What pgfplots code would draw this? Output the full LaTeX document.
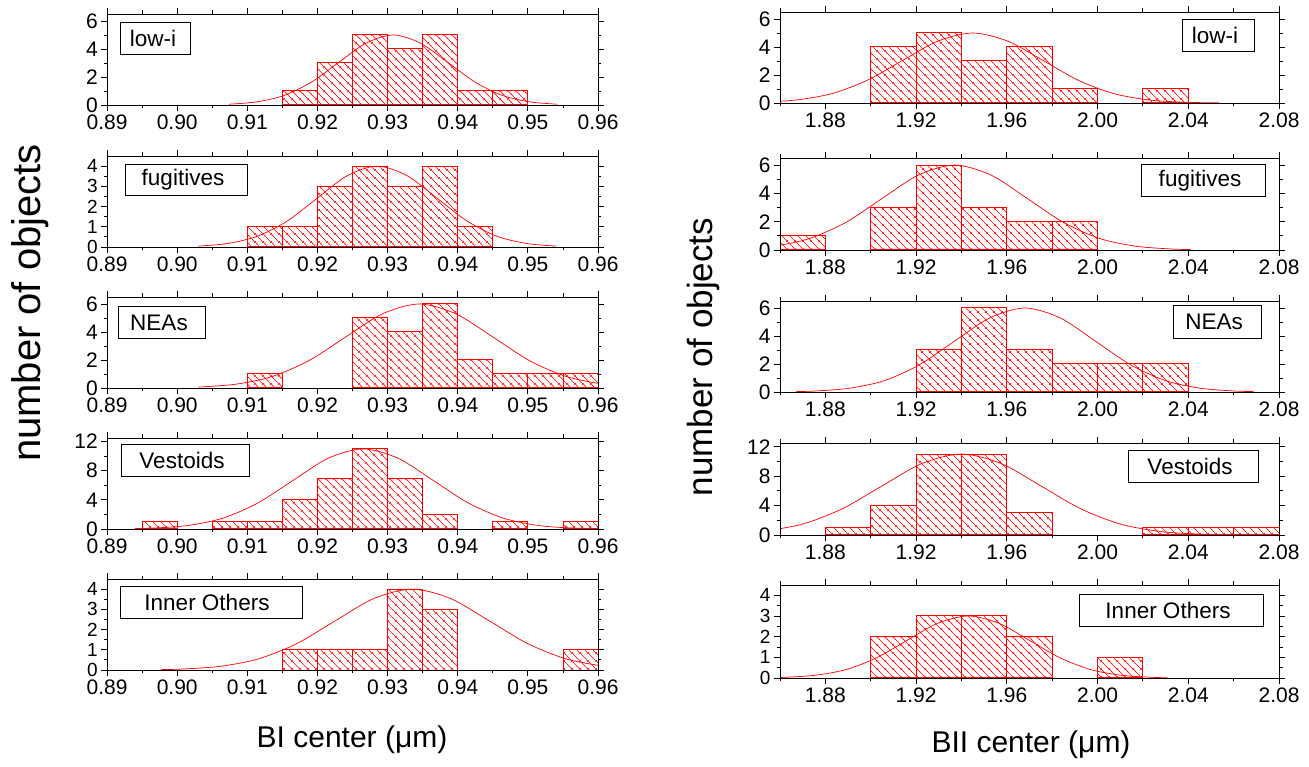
\documentclass[border=0pt]{standalone}
\usepackage{fontspec}
\setmainfont{Liberation Sans}
\usepackage{pgfplots}
\usepackage{pgfplotstable}
\pgfplotsset{compat=1.18}
\usetikzlibrary{patterns}
\pgfdeclarepatterninherentlycolored{redhatch}{\pgfpointorigin}{\pgfpoint{7.5bp}{7.5bp}}{\pgfpoint{7.5bp}{7.5bp}}{%
  \pgfsetcolor{red}\pgfsetlinewidth{0.6bp}%
  \pgfpathmoveto{\pgfpoint{-1bp}{8.5bp}}\pgfpathlineto{\pgfpoint{8.5bp}{-1bp}}%
  \pgfpathmoveto{\pgfpoint{-1bp}{1bp}}\pgfpathlineto{\pgfpoint{1bp}{-1bp}}%
  \pgfpathmoveto{\pgfpoint{6.5bp}{8.5bp}}\pgfpathlineto{\pgfpoint{8.5bp}{6.5bp}}%
  \pgfusepath{stroke}}
\pgfplotsset{
  hbase/.style={
    scale only axis, anchor=south west,
    ymin=0, axis on top,
    axis line style={line width=0.9bp},
    every tick/.style={black, line width=0.9bp},
    tick align=outside,
    major tick length=6bp, minor tick length=3.5bp,
    ticklabel style={font=\fontsize{21bp}{24bp}\selectfont},
    /pgf/number format/assume math mode=true,
    xticklabel style={/pgf/number format/.cd, fixed, fixed zerofill, precision=2},
    scaled x ticks=false,
  },
  lcol/.style={hbase, width=491bp, height=91bp, xmin=0.89, xmax=0.96,
    disabledatascaling,
    xtick={0.89,0.90,0.91,0.92,0.93,0.94,0.95,0.96},
    minor xtick={0.895,0.905,0.915,0.925,0.935,0.945,0.955}},
  rcol/.style={hbase, width=499bp, xmin=1.86, xmax=2.08,
    xtick={1.88,1.92,1.96,2.00,2.04,2.08}, minor xtick={1.86,1.90,1.94,1.98,2.02,2.06}},
  y6/.style={ymax=6.5, ytick={0,2,4,6}, minor ytick={1,3,5}},
  y4/.style={ymax=4.5, ytick={0,1,2,3,4}, minor ytick={0.5,1.5,2.5,3.5},
    yticklabel style={font=\fontsize{19bp}{19bp}\selectfont, inner ysep=0pt}},
  y12/.style={ymax=12.5, ytick={0,4,8,12}, minor ytick={2,6,10}},
  hbarP/.style={ybar, bar width=#1, bar shift=0pt, draw=none, pattern=redhatch},
  hbarE/.style={ybar, bar width=#1, bar shift=0pt, color=red, draw=red, fill=none, line width=1bp},
  gfit/.style={color=red, line width=0.7bp, smooth, mark=none},
}
\newcommand{\histP}[2]{\addplot[hbarP=#2] table {#1};}
\newcommand{\histE}[2]{\addplot[hbarE=#2] table {#1};}
\newcommand{\lbl}[7]{%
  \draw[line width=0.8bp] (#1bp,#3bp) rectangle (#2bp,#4bp);
  \node[font=\fontsize{22.5bp}{26bp}\selectfont, inner sep=0pt] at (#5bp,#6bp) {#7};}

% histogram counts: bin centre, count
\pgfplotstableread[row sep=\\]{x y\\ 0.9175 1\\ 0.9225 3\\ 0.9275 5\\ 0.9325 4\\ 0.9375 5\\ 0.9425 1\\ 0.9475 1\\}\LlowI
\pgfplotstableread[row sep=\\]{x y\\ 0.9125 1\\ 0.9175 1\\ 0.9225 3\\ 0.9275 4\\ 0.9325 3\\ 0.9375 4\\ 0.9425 1\\}\Lfug
\pgfplotstableread[row sep=\\]{x y\\ 0.9125 1\\ 0.9275 5\\ 0.9325 4\\ 0.9375 6\\ 0.9425 2\\ 0.9475 1\\ 0.9525 1\\ 0.9575 1\\}\Lnea
\pgfplotstableread[row sep=\\]{x y\\ 0.8975 1\\ 0.9075 1\\ 0.9125 1\\ 0.9175 4\\ 0.9225 7\\ 0.9275 11\\ 0.9325 7\\ 0.9375 2\\ 0.9475 1\\ 0.9575 1\\}\Lves
\pgfplotstableread[row sep=\\]{x y\\ 0.9175 1\\ 0.9225 1\\ 0.9275 1\\ 0.9325 4\\ 0.9375 3\\ 0.9575 1\\}\Linn
\pgfplotstableread[row sep=\\]{x y\\ 1.91 4\\ 1.93 5\\ 1.95 3\\ 1.97 4\\ 1.99 1\\ 2.03 1\\}\RlowI
\pgfplotstableread[row sep=\\]{x y\\ 1.87 1\\ 1.91 3\\ 1.93 6\\ 1.95 3\\ 1.97 2\\ 1.99 2\\}\Rfug
\pgfplotstableread[row sep=\\]{x y\\ 1.93 3\\ 1.95 6\\ 1.97 3\\ 1.99 2\\ 2.01 2\\ 2.03 2\\}\Rnea
\pgfplotstableread[row sep=\\]{x y\\ 1.89 1\\ 1.91 4\\ 1.93 11\\ 1.95 11\\ 1.97 3\\ 2.03 1\\ 2.05 1\\ 2.07 1\\}\Rves
\pgfplotstableread[row sep=\\]{x y\\ 1.91 2\\ 1.93 3\\ 1.95 3\\ 1.97 2\\ 2.01 1\\}\Rinn

\begin{document}
\begin{tikzpicture}
\path[use as bounding box] (0,0) rectangle (1309bp,767bp);

% ---------------- right column (BII) ----------------
\begin{axis}[rcol, y6, height=91bp, at={(780bp,664bp)}]
\histP{\RlowI}{0.02}
\addplot[gfit] coordinates {(1.852,0.056) (1.8675,0.22) (1.883,0.677) (1.8985,1.623) (1.914,3.033) (1.9295,4.413) (1.945,5) (1.9605,4.413) (1.976,3.033) (1.9915,1.623) (2.007,0.677) (2.0225,0.22) (2.038,0.056) (2.0535,0.011)};
\histE{\RlowI}{0.02}
\end{axis}

\begin{axis}[rcol, y6, height=92bp, at={(780bp,517bp)}]
\histP{\Rfug}{0.02}
\addplot[gfit] coordinates {(1.841,0.067) (1.857,0.264) (1.873,0.812) (1.889,1.948) (1.905,3.639) (1.921,5.295) (1.937,6) (1.953,5.295) (1.969,3.639) (1.985,1.948) (2.001,0.812) (2.017,0.264) (2.033,0.067) (2.041,0.030)};
\histE{\Rfug}{0.02}
\end{axis}

\begin{axis}[rcol, y6, height=91bp, at={(780bp,375bp)}]
\histP{\Rnea}{0.02}
\addplot[gfit] coordinates {(1.86725,0.030) (1.875,0.067) (1.8905,0.264) (1.906,0.812) (1.9215,1.948) (1.937,3.639) (1.9525,5.295) (1.968,6) (1.9835,5.295) (1.999,3.639) (2.0145,1.948) (2.030,0.812) (2.0455,0.264) (2.061,0.067) (2.06875,0.030)};
\histE{\Rnea}{0.02}
\end{axis}

\begin{axis}[rcol, y12, height=92bp, at={(780bp,232bp)}]
\histP{\Rves}{0.02}
\addplot[gfit] coordinates {(1.8525,0.483) (1.87,1.489) (1.8875,3.571) (1.905,6.672) (1.9225,9.708) (1.94,11) (1.9575,9.708) (1.975,6.672) (1.9925,3.571) (2.01,1.489) (2.0275,0.483) (2.045,0.122) (2.0625,0.024) (2.08,0.004)};
\histE{\Rves}{0.02}
\end{axis}

\begin{axis}[rcol, y4, height=93bp, at={(780bp,89bp)}]
\histP{\Rinn}{0.02}
\addplot[gfit] coordinates {(1.85525,0.015) (1.862,0.033) (1.8755,0.132) (1.889,0.406) (1.9025,0.974) (1.916,1.820) (1.9295,2.648) (1.943,3) (1.9565,2.648) (1.970,1.820) (1.9835,0.974) (1.997,0.406) (2.0105,0.132) (2.024,0.033) (2.03075,0.015)};
\histE{\Rinn}{0.02}
\end{axis}

% ---------------- left column (BI) ----------------
\begin{axis}[lcol, y6, at={(107bp,662bp)}]
\histP{\LlowI}{0.005}
\addplot[gfit] coordinates {(0.9074,0.056) (0.9113,0.22) (0.9152,0.677) (0.9191,1.623) (0.9230,3.033) (0.9269,4.413) (0.9308,5) (0.9347,4.413) (0.9386,3.033) (0.9425,1.623) (0.9464,0.677) (0.9503,0.22) (0.9542,0.056)};
\histE{\LlowI}{0.005}
\end{axis}

\begin{axis}[lcol, y4, at={(107bp,520bp)}]
\histP{\Lfug}{0.005}
\addplot[gfit] coordinates {(0.9030,0.044) (0.90725,0.176) (0.9115,0.541) (0.91575,1.299) (0.9200,2.426) (0.92425,3.53) (0.9285,4) (0.93275,3.53) (0.9370,2.426) (0.94125,1.299) (0.9455,0.541) (0.94975,0.176) (0.9540,0.044)};
\histE{\Lfug}{0.005}
\end{axis}

\begin{axis}[lcol, y6, at={(107bp,379bp)}]
\histP{\Lnea}{0.005}
\addplot[gfit] coordinates {(0.903,0.067) (0.90825,0.264) (0.9135,0.812) (0.91875,1.948) (0.924,3.639) (0.92925,5.295) (0.9345,6) (0.93975,5.295) (0.945,3.639) (0.95025,1.948) (0.9555,0.812) (0.96075,0.264)};
\histE{\Lnea}{0.005}
\end{axis}

\begin{axis}[lcol, y12, at={(107bp,238bp)}]
\histP{\Lves}{0.005}
\addplot[gfit] coordinates {(0.8940,0.056) (0.8965,0.122) (0.9015,0.483) (0.9065,1.489) (0.9115,3.571) (0.9165,6.672) (0.9215,9.708) (0.9265,11) (0.9315,9.708) (0.9365,6.672) (0.9415,3.571) (0.9465,1.489) (0.9515,0.483) (0.9565,0.122) (0.9615,0.024)};
\histE{\Lves}{0.005}
\end{axis}

\begin{axis}[lcol, y4, at={(107bp,97bp)}]
\histP{\Linn}{0.005}
\addplot[gfit] coordinates {(0.89775,0.020) (0.9005,0.044) (0.906,0.176) (0.9115,0.541) (0.917,1.299) (0.9225,2.426) (0.928,3.53) (0.9335,4) (0.939,3.53) (0.9445,2.426) (0.95,1.299) (0.9555,0.541) (0.961,0.176)};
\histE{\Linn}{0.005}
\end{axis}

% ---------------- panel labels ----------------
\lbl{120}{190}{744.3}{712.7}{153}{728.5}{low-i}
\lbl{125}{247}{602.7}{571.3}{183}{587}{fugitives}
\lbl{118.5}{205.4}{460.3}{428.7}{159}{444.5}{NEAs}
\lbl{121.4}{249.3}{323}{291}{182}{307}{Vestoids}
\lbl{120}{302}{180.3}{148.7}{207}{164.5}{Inner Others}
\lbl{1182}{1254}{747.7}{715.3}{1215}{731.5}{low-i}
\lbl{1141}{1265}{602.7}{570.3}{1200}{586.5}{fugitives}
\lbl{1173}{1261}{462}{428.7}{1214}{445.3}{NEAs}
\lbl{1128}{1258}{317}{284.3}{1190}{300.7}{Vestoids}
\lbl{1079}{1263}{173}{140.3}{1168}{156.7}{Inner Others}

% ---------------- axis titles ----------------
\node[rotate=90, font=\fontsize{40bp}{44bp}\selectfont] at (30bp,464bp) {number of objects};
\node[rotate=90, font=\fontsize{35bp}{39bp}\selectfont] at (703bp,410bp) {number of objects};
\node[font=\fontsize{30bp}{34bp}\selectfont] at (352bp,27bp) {BI center (μm)};
\node[font=\fontsize{30bp}{34bp}\selectfont] at (1031bp,22bp) {BII center (μm)};
\end{tikzpicture}
\end{document}
